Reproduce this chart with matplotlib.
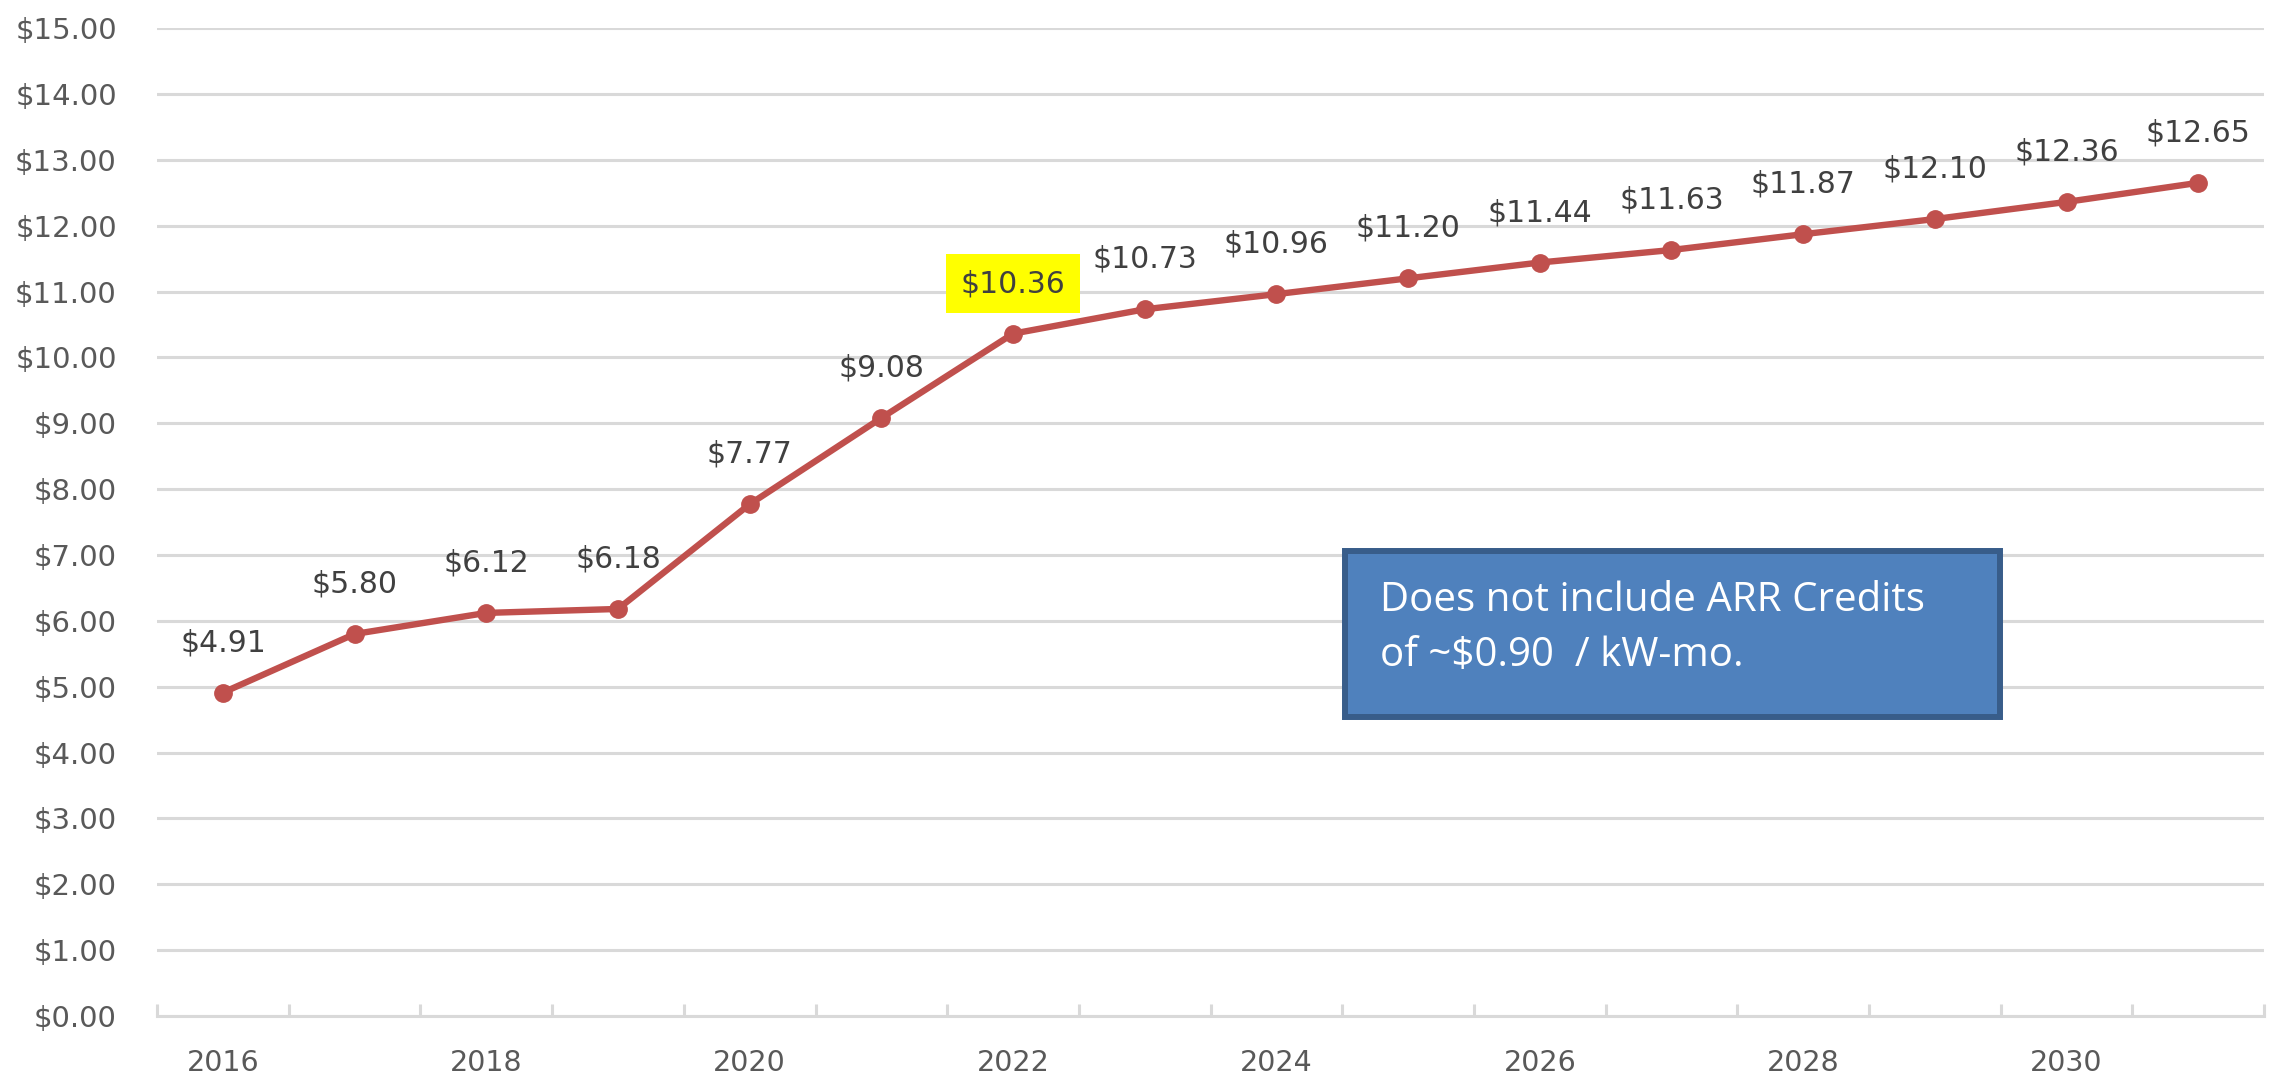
import matplotlib.pyplot as plt
from matplotlib.patches import Rectangle

years = list(range(2016, 2032))
prices = [4.91, 5.80, 6.12, 6.18, 7.77, 9.08, 10.36, 10.73, 10.96, 11.20,
          11.44, 11.63, 11.87, 12.10, 12.36, 12.65]
highlight_year = 2022
note_lines = ["Does not include ARR Credits", "of ~$0.90  / kW-mo."]

grid_col = "#d9d9d9"
red = "#c0504d"

fig = plt.figure(figsize=(22.8, 10.79), dpi=100)
ax = fig.add_axes([0.0689, 0.0584, 0.9241, 0.9156])

x = list(range(len(years)))
ax.plot(x, prices, color=red, lw=4.6, marker="o", ms=12.5, zorder=3)

for i, v in zip(x, prices):
    kw = {}
    if years[i] == highlight_year:
        kw["bbox"] = dict(boxstyle="square,pad=0.5", fc="#ffff00", ec="none")
    ax.annotate(f"${v:.2f}", (i, v), xytext=(0, 36), textcoords="offset points",
                ha="center", va="center", fontsize=21.5, color="#404040", **kw)

ax.set_xlim(-0.5, len(years) - 0.5)
ax.set_ylim(0, 15)
ax.set_yticks(range(16))
ax.set_yticklabels([f"${t:.2f}" for t in range(16)])
ax.yaxis.grid(True, color=grid_col, lw=2.2)
ax.set_axisbelow(True)

ax.set_xticks(x[::2])
ax.set_xticklabels([str(y) for y in years[::2]])
ax.set_xticks([i - 0.5 for i in range(len(years) + 1)], minor=True)
ax.tick_params(axis="x", which="major", length=0, pad=24, labelsize=20.5, labelcolor="#595959")
ax.tick_params(axis="x", which="minor", direction="in", length=9, width=2.2, color=grid_col)
ax.tick_params(axis="y", length=0, pad=29, labelsize=21, labelcolor="#595959")

for s in ["top", "right", "left"]:
    ax.spines[s].set_visible(False)
ax.spines["bottom"].set_color(grid_col)
ax.spines["bottom"].set_linewidth(2.2)

# note box
ax.add_patch(Rectangle((0.5638, 0.3026), 0.3109, 0.168, transform=ax.transAxes,
                       fc="#4f81bd", ec="#385d8a", lw=4.3, zorder=4))
ax.text(0.5805, 0.4099, note_lines[0], transform=ax.transAxes, va="baseline",
        ha="left", fontsize=29, color="white", family="Open Sans", zorder=5)
ax.text(0.5805, 0.3543, note_lines[1], transform=ax.transAxes, va="baseline",
        ha="left", fontsize=29, color="white", family="Open Sans", zorder=5)

fig.savefig("out.png", dpi=100)
